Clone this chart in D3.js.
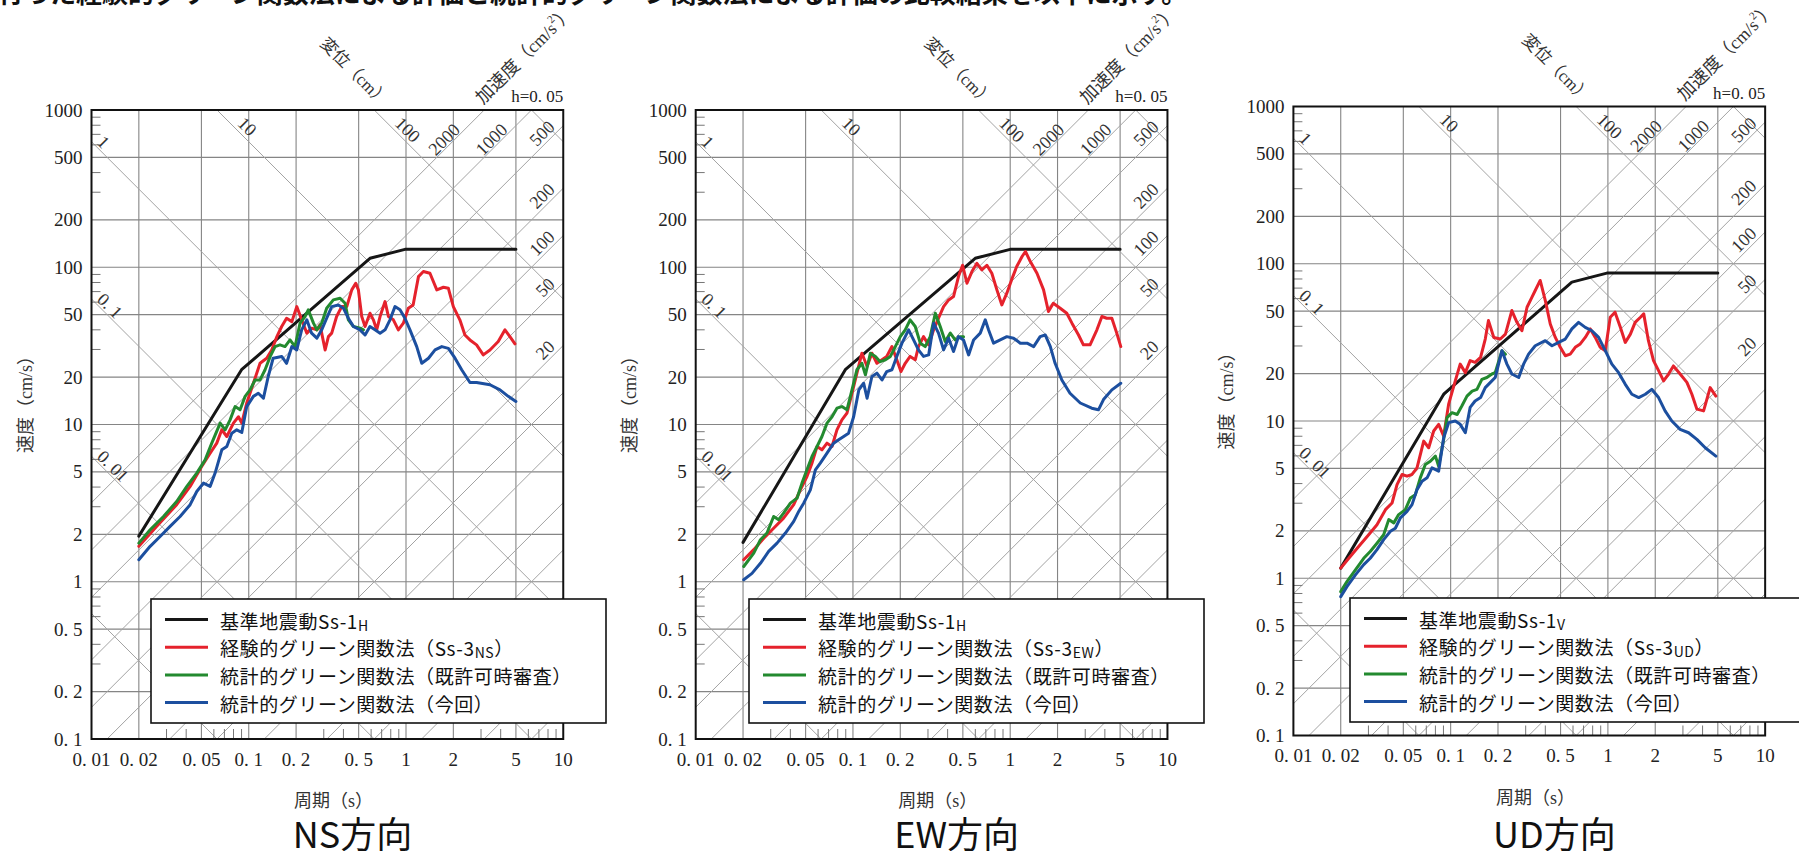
<!DOCTYPE html>
<html><head><meta charset="utf-8">
<script src="https://cdn.jsdelivr.net/npm/d3@7"></script>
<style>body{margin:0;background:#fff;} svg{display:block;}</style>
</head><body>
<svg id="chart" width="1799" height="851"></svg>
<script>
// ---------- axis / reference-line values ----------
const periodTicks = [0.01,0.02,0.05,0.1,0.2,0.5,1,2,5,10];
const periodTickLabels = ["0. 01","0. 02","0. 05","0. 1","0. 2","0. 5","1","2","5","10"];
const velocityTicks = [0.1,0.2,0.5,1,2,5,10,20,50,100,200,500,1000];
const velocityTickLabels = ["0. 1","0. 2","0. 5","1","2","5","10","20","50","100","200","500","1000"];
const dispLines = [0.001,0.01,0.1,1,10,100,1000];           // cm
const dispLeftLabels = [[0.01,"0. 01"],[0.1,"0. 1"],[1,"1"]];
const dispTopLabels = [[10,"10"],[100,"100"]];
const accLines = [0.1,0.2,0.5,1,2,5,10,20,50,100,200,500,1000,2000]; // cm/s2
const accRightLabels = [20,50,100,200,500];
const accTopLabels = [1000,2000];
const seriesNames = ["基準地震動Ss-1","経験的グリーン関数法（Ss-3","統計的グリーン関数法（既許可時審査）","統計的グリーン関数法（今回）"];

// ---------- NS (period s, velocity cm/s) ----------
const nsBase = [[0.02,1.95],[0.09,22.3],[0.59,114],[0.985,130],[5.0,130]];
const nsEmpirical = [[0.02,1.68],[0.026,2.25],[0.0348,3.09],[0.0424,4.04],[0.0502,5.41],[0.0568,6.57],[0.0626,7.61],[0.0674,9.25],[0.0725,8.39],[0.0799,10.2],[0.086,11.2],[0.0903,10.2],[0.0971,13.7],[0.107,18.3],[0.118,24.5],[0.130,26.4],[0.140,29.8],[0.151,36.2],[0.162,42.0],[0.174,47.4],[0.188,45.1],[0.202,56.2],[0.217,46.3],[0.234,38.1],[0.251,41.0],[0.271,40.0],[0.284,43.0],[0.306,29.8],[0.321,36.2],[0.337,38.1],[0.362,48.6],[0.390,56.2],[0.420,56.2],[0.452,71.8],[0.479,79.1],[0.498,71.8],[0.523,48.6],[0.549,42.0],[0.590,51.0],[0.620,46.3],[0.651,40.0],[0.684,48.6],[0.736,60.5],[0.773,48.6],[0.831,46.3],[0.894,40.0],[0.962,44.1],[1.035,54.9],[1.11,57.6],[1.20,87.2],[1.29,93.9],[1.42,91.6],[1.57,71.8],[1.73,74.6],[1.86,73.5],[2.00,56.2],[2.20,46.3],[2.37,37.1],[2.55,34.5],[2.81,32.1],[3.10,27.7],[3.42,29.8],[3.86,33.7],[4.26,40.0],[4.58,36.2],[4.93,32.6]];
const nsStatOld = [[0.02,1.76],[0.0236,2.14],[0.0287,2.60],[0.0348,3.24],[0.0404,4.04],[0.0467,4.91],[0.0528,5.96],[0.0582,7.61],[0.0658,10.2],[0.0708,9.25],[0.0761,10.7],[0.0819,13.0],[0.0881,12.4],[0.0948,15.1],[0.1019,16.6],[0.1097,19.2],[0.118,19.2],[0.127,22.3],[0.137,27.1],[0.147,31.3],[0.158,32.1],[0.170,31.3],[0.183,34.5],[0.197,31.3],[0.212,44.1],[0.228,48.6],[0.239,53.6],[0.258,44.1],[0.271,40.0],[0.291,44.1],[0.313,54.9],[0.345,62.0],[0.381,63.5],[0.410,59.0],[0.430,46.3],[0.463,42.0],[0.510,41.0],[0.536,40.0]];
const nsStatNew = [[0.02,1.38],[0.0236,1.68],[0.0273,1.94],[0.0316,2.25],[0.0366,2.60],[0.0424,3.09],[0.0467,3.75],[0.0515,4.24],[0.0568,4.04],[0.0611,4.91],[0.0674,6.90],[0.0725,7.25],[0.078,8.81],[0.0839,9.25],[0.0903,8.90],[0.0971,13.0],[0.107,15.1],[0.115,15.8],[0.124,14.7],[0.133,20.2],[0.143,26.4],[0.162,27.1],[0.174,24.5],[0.188,31.3],[0.202,29.8],[0.217,40.0],[0.234,46.3],[0.251,38.1],[0.271,35.4],[0.291,40.0],[0.313,47.4],[0.337,56.2],[0.371,57.6],[0.400,54.9],[0.430,47.4],[0.463,42.0],[0.510,40.0],[0.549,37.1],[0.590,42.0],[0.635,40.0],[0.684,38.1],[0.736,40.0],[0.791,46.3],[0.851,56.2],[0.916,53.6],[0.985,47.4],[1.06,40.0],[1.17,31.3],[1.26,24.5],[1.39,26.4],[1.53,29.8],[1.69,31.3],[1.86,30.5],[2.05,26.4],[2.26,22.3],[2.55,18.5],[2.81,18.5],[3.42,17.9],[3.96,16.6],[4.47,15.1],[5.00,14.0]];

// ---------- EW ----------
const ewBase = [[0.02,1.78],[0.0894,22.3],[0.599,114],[1.0,130],[5.0,130]];
const ewEmpirical = [[0.0202,1.38],[0.0234,1.60],[0.0271,1.89],[0.0313,2.19],[0.0362,2.54],[0.0420,3.09],[0.0463,3.84],[0.0510,4.67],[0.0549,5.68],[0.0591,7.25],[0.0635,6.90],[0.0684,7.61],[0.0736,7.25],[0.0791,9.25],[0.0851,10.7],[0.0916,11.8],[0.0986,15.8],[0.106,21.2],[0.114,28.4],[0.123,23.4],[0.132,28.4],[0.142,24.5],[0.153,25.8],[0.164,27.1],[0.177,31.3],[0.190,25.8],[0.202,21.7],[0.215,24.5],[0.231,27.1],[0.249,25.8],[0.261,31.3],[0.281,36.2],[0.303,32.1],[0.326,40.0],[0.350,47.4],[0.377,56.2],[0.406,62.0],[0.436,65.1],[0.469,87.2],[0.498,103],[0.531,79.1],[0.571,93.9],[0.614,106],[0.660,96.2],[0.711,103],[0.764,91.6],[0.823,71.8],[0.885,57.6],[0.952,68.4],[1.02,83.1],[1.10,101],[1.19,117],[1.25,126],[1.34,109],[1.48,91.6],[1.63,71.8],[1.75,52.3],[1.88,59.0],[2.08,54.9],[2.29,51.0],[2.47,44.1],[2.72,37.1],[2.92,32.1],[3.22,32.1],[3.56,40.0],[3.83,48.6],[4.11,47.4],[4.43,47.4],[4.76,38.1],[5.05,31.3]];
const ewStatOld = [[0.0202,1.25],[0.0234,1.52],[0.0258,1.85],[0.0284,2.04],[0.0313,2.60],[0.0337,2.48],[0.0362,2.73],[0.0400,3.16],[0.0441,3.40],[0.0474,4.24],[0.051,5.15],[0.0549,6.26],[0.0591,7.25],[0.0635,8.39],[0.0684,10.2],[0.0736,11.2],[0.0791,12.7],[0.0851,13.0],[0.0916,12.4],[0.0986,16.6],[0.106,22.3],[0.114,24.5],[0.120,20.7],[0.129,28.4],[0.139,27.1],[0.149,25.1],[0.161,25.8],[0.173,27.1],[0.186,31.3],[0.200,36.2],[0.215,40.0],[0.231,46.3],[0.249,42.0],[0.268,32.9],[0.288,31.3],[0.310,36.2],[0.334,51.0],[0.359,42.0],[0.386,33.7],[0.416,38.1],[0.447,34.5],[0.481,36.2],[0.505,36.2]];
const ewStatNew = [[0.0202,1.03],[0.0228,1.13],[0.0258,1.31],[0.0291,1.56],[0.0329,1.76],[0.0372,2.04],[0.0420,2.42],[0.0452,2.80],[0.0486,3.16],[0.0536,3.84],[0.0577,5.15],[0.0620,5.68],[0.0684,6.57],[0.0754,7.61],[0.0811,7.99],[0.0873,8.39],[0.0938,8.81],[0.101,11.2],[0.109,16.6],[0.117,18.3],[0.123,14.7],[0.132,20.2],[0.142,21.2],[0.153,19.2],[0.164,21.7],[0.177,22.3],[0.190,27.1],[0.205,32.9],[0.226,40.0],[0.243,34.5],[0.261,29.8],[0.281,27.1],[0.303,27.7],[0.326,44.1],[0.350,38.1],[0.377,29.8],[0.406,35.4],[0.436,29.1],[0.469,36.2],[0.505,34.5],[0.544,27.7],[0.585,34.5],[0.645,38.1],[0.694,46.3],[0.728,40.0],[0.784,32.9],[0.864,34.5],[0.952,36.2],[1.05,35.4],[1.16,32.9],[1.28,32.9],[1.41,31.3],[1.55,36.2],[1.67,37.1],[1.80,31.3],[1.93,24.5],[2.13,19.2],[2.40,15.8],[2.79,13.7],[3.30,12.7],[3.64,12.4],[3.92,14.4],[4.43,16.6],[5.05,18.3]];

// ---------- UD ----------
const udBase = [[0.02,1.16],[0.0903,14.8],[0.59,76.4],[0.985,87.2],[5.0,87.2]];
const udEmpirical = [[0.02,1.16],[0.0225,1.34],[0.0260,1.59],[0.0301,1.89],[0.0340,2.19],[0.0385,2.73],[0.0424,3.01],[0.0456,3.94],[0.0491,4.57],[0.0528,4.46],[0.0568,4.57],[0.0611,5.04],[0.0674,7.45],[0.0725,6.76],[0.078,8.64],[0.0839,9.52],[0.0903,8.02],[0.0971,12.8],[0.107,18.0],[0.115,23.0],[0.124,20.3],[0.133,24.2],[0.143,23.6],[0.155,25.4],[0.166,33.2],[0.174,43.5],[0.188,34.0],[0.207,33.2],[0.223,35.7],[0.245,50.4],[0.264,42.4],[0.284,37.5],[0.306,52.9],[0.329,61.3],[0.345,67.6],[0.371,78.3],[0.400,58.3],[0.430,41.4],[0.463,34.0],[0.498,29.4],[0.536,26.0],[0.576,26.6],[0.620,29.4],[0.667,30.9],[0.718,34.0],[0.773,38.5],[0.831,34.0],[0.894,29.4],[0.962,28.0],[1.035,45.7],[1.11,49.2],[1.20,39.4],[1.29,31.6],[1.39,35.7],[1.49,42.4],[1.61,45.7],[1.69,48.0],[1.81,32.4],[1.95,24.2],[2.10,20.9],[2.26,18.0],[2.43,19.9],[2.61,22.4],[2.88,19.9],[3.18,17.6],[3.42,14.8],[3.68,11.9],[4.06,11.6],[4.47,16.3],[4.86,14.4]];
const udStatOld = [[0.02,0.822],[0.0219,0.952],[0.0248,1.13],[0.0280,1.34],[0.0308,1.48],[0.0340,1.67],[0.0375,1.89],[0.0404,2.36],[0.0435,2.25],[0.0467,2.54],[0.0515,2.73],[0.0555,3.24],[0.0596,3.40],[0.0641,4.35],[0.069,5.29],[0.0743,5.55],[0.080,5.98],[0.0839,5.16],[0.0903,7.64],[0.0948,10.5],[0.102,11.3],[0.110,11.0],[0.118,12.5],[0.127,14.4],[0.137,15.5],[0.147,15.9],[0.158,18.4],[0.170,18.9],[0.183,19.9],[0.192,20.3],[0.212,28.0],[0.223,26.6]];
const udStatNew = [[0.02,0.764],[0.0219,0.885],[0.0248,1.05],[0.0280,1.22],[0.0308,1.34],[0.0340,1.52],[0.0375,1.76],[0.0414,1.99],[0.0445,2.08],[0.0479,2.42],[0.0528,2.66],[0.0568,2.94],[0.0611,3.66],[0.0658,4.14],[0.0708,4.35],[0.0761,5.04],[0.0839,4.80],[0.0903,7.83],[0.0971,9.76],[0.107,9.99],[0.115,9.52],[0.124,8.42],[0.133,12.2],[0.143,13.4],[0.155,14.1],[0.166,16.3],[0.179,17.6],[0.192,18.9],[0.212,28.0],[0.228,23.0],[0.245,19.9],[0.271,18.9],[0.291,23.0],[0.313,26.6],[0.345,30.1],[0.400,32.4],[0.441,30.1],[0.486,31.6],[0.536,33.2],[0.590,38.5],[0.651,42.4],[0.718,39.4],[0.791,37.5],[0.873,34.0],[0.962,28.0],[1.06,23.0],[1.17,20.3],[1.29,17.1],[1.42,14.8],[1.57,14.1],[1.73,14.8],[1.90,15.9],[2.10,14.1],[2.31,11.6],[2.55,10.0],[2.88,8.85],[3.26,8.42],[3.68,7.64],[4.16,6.76],[4.86,5.98]];

// ---------- layout ----------
const DEC = 157.25;
const panels = [
  {key:"ns", left:91.5,  top:110,   legendX:151,  legendY:599, baseSub:"H", empSub:"NS", title:"NS方向", series:[nsBase,nsEmpirical,nsStatOld,nsStatNew]},
  {key:"ew", left:695.7, top:110,   legendX:749,  legendY:599, baseSub:"H", empSub:"EW", title:"EW方向", series:[ewBase,ewEmpirical,ewStatOld,ewStatNew]},
  {key:"ud", left:1293.4,top:106.5, legendX:1350, legendY:598, baseSub:"V", empSub:"UD", title:"UD方向", series:[udBase,udEmpirical,udStatOld,udStatNew]}
];
const colors = ["#161616","#e5222c","#238a2f","#1c4f9f"];
const SERIF = "'Liberation Serif','DejaVu Serif','Noto Sans CJK JP',serif";
const CJK = "'Noto Sans CJK JP','Noto Sans',sans-serif";
const TWO_PI = 2*Math.PI;

const svg = d3.select("#chart");
const defs = svg.append("defs");

// heading cut off by the top edge of the page
svg.append("text").attr("x",-2).attr("y",3).attr("font-family",CJK).attr("font-size",26).attr("font-weight",700)
  .attr("fill","#111").text("行った経験的グリーン関数法による評価と統計的グリーン関数法による評価の比較結果を以下に示す。");

const minorT = []; [0.01,0.1,1].forEach(d=>[3,4,6,7,8,9].forEach(m=>minorT.push(d*m)));
const minorV = []; [0.1,1,10,100].forEach(d=>[3,4,6,7,8,9].forEach(m=>minorV.push(d*m)));

panels.forEach(p => {
  const left = p.left, top = p.top, right = left + 3*DEC, bottom = top + 4*DEC;
  const x = d3.scaleLog().domain([0.01,10]).range([left,right]);
  const y = d3.scaleLog().domain([0.1,1000]).range([bottom,top]);
  const g = svg.append("g");
  const clipId = "clip-"+p.key;
  defs.append("clipPath").attr("id",clipId).append("rect")
    .attr("x",left).attr("y",top).attr("width",right-left).attr("height",bottom-top);

  // grid
  g.append("g").selectAll("line").data(periodTicks.slice(1,-1)).join("line")
    .attr("x1",d=>x(d)).attr("x2",d=>x(d)).attr("y1",top).attr("y2",bottom)
    .attr("stroke","#858585").attr("stroke-width",1.1);
  g.append("g").selectAll("line").data(velocityTicks.slice(1,-1)).join("line")
    .attr("y1",d=>y(d)).attr("y2",d=>y(d)).attr("x1",left).attr("x2",right)
    .attr("stroke","#858585").attr("stroke-width",1.1);

  // tripartite diagonals
  const gd = g.append("g").attr("clip-path",`url(#${clipId})`);
  gd.selectAll("line.d").data(dispLines).join("line").attr("class","d")
    .attr("x1",x(1e-3)).attr("y1",D=>y(TWO_PI*D/1e-3))
    .attr("x2",x(100)).attr("y2",D=>y(TWO_PI*D/100))
    .attr("stroke","#a3a3a3").attr("stroke-width",1);
  gd.selectAll("line.a").data(accLines).join("line").attr("class","a")
    .attr("x1",x(1e-3)).attr("y1",A=>y(A*1e-3/TWO_PI))
    .attr("x2",x(100)).attr("y2",A=>y(A*100/TWO_PI))
    .attr("stroke","#a3a3a3").attr("stroke-width",1);

  // minor ticks
  g.append("g").selectAll("line").data(minorV).join("line")
    .attr("x1",left).attr("x2",left+9).attr("y1",d=>y(d)).attr("y2",d=>y(d))
    .attr("stroke","#777").attr("stroke-width",1);
  g.append("g").selectAll("line").data(minorT).join("line")
    .attr("y1",bottom).attr("y2",bottom-10).attr("x1",d=>x(d)).attr("x2",d=>x(d))
    .attr("stroke","#777").attr("stroke-width",1);

  // diagonal labels
  const lab = g.append("g").attr("font-family",SERIF).attr("font-size",18).attr("fill","#333");
  dispLeftLabels.forEach(([D,t]) => {
    const xs = left+3, T = x.invert(xs), ys = y(TWO_PI*D/T);
    lab.append("text").attr("transform",`translate(${xs+1.5},${ys-1.5}) rotate(45)`).text(t);
  });
  dispTopLabels.forEach(([D,t]) => {
    const ys = top+17, V = y.invert(ys), xs = x(TWO_PI*D/V);
    lab.append("text").attr("transform",`translate(${xs+2.5},${ys-2.5}) rotate(45)`).text(t);
  });
  accRightLabels.forEach(A => {
    const xs = right-5, T = x.invert(xs), ys = y(A*T/TWO_PI);
    lab.append("text").attr("text-anchor","end").attr("transform",`translate(${xs-2.5},${ys-2.5}) rotate(-45)`).text(A);
  });
  accTopLabels.forEach(A => {
    const ys = top+21, V = y.invert(ys), xs = x(TWO_PI*V/A);
    lab.append("text").attr("text-anchor","end").attr("transform",`translate(${xs-2},${ys}) rotate(-45)`).text(A);
  });

  // curves
  const line = d3.line().x(d=>x(d[0])).y(d=>y(d[1]));
  p.series.forEach((s,i) => {
    g.append("path").datum(s).attr("d",line).attr("fill","none")
      .attr("stroke",colors[i]).attr("stroke-width",3).attr("stroke-linejoin","round").attr("stroke-linecap","round");
  });

  // frame
  g.append("rect").attr("x",left).attr("y",top).attr("width",right-left).attr("height",bottom-top)
    .attr("fill","none").attr("stroke","#111").attr("stroke-width",2);

  // tick labels
  g.append("g").selectAll("text").data(velocityTicks).join("text")
    .attr("x",left-9).attr("y",d=>y(d)).attr("text-anchor","end").attr("dominant-baseline","central")
    .attr("font-family",SERIF).attr("font-size",19).attr("fill","#222")
    .text((d,i)=>velocityTickLabels[i]);
  g.append("g").selectAll("text").data(periodTicks).join("text")
    .attr("x",d=>x(d)).attr("y",bottom+20).attr("text-anchor","middle").attr("dominant-baseline","central")
    .attr("font-family",SERIF).attr("font-size",19).attr("fill","#222")
    .text((d,i)=>periodTickLabels[i]);

  // axis titles
  g.append("text").attr("transform",`translate(${left-66},${top+290}) rotate(-90)`)
    .attr("text-anchor","middle").attr("dominant-baseline","central")
    .attr("font-family",SERIF).attr("font-size",18).attr("fill","#333").text("速度（cm/s）");
  g.append("text").attr("x",left+242).attr("y",bottom+62).attr("text-anchor","middle").attr("dominant-baseline","central")
    .attr("font-family",SERIF).attr("font-size",18).attr("fill","#333").text("周期（s）");
  g.append("text").attr("transform",`translate(${left+263},${top-38}) rotate(45)`)
    .attr("text-anchor","middle").attr("dominant-baseline","central")
    .attr("font-family",SERIF).attr("font-size",17).attr("fill","#333").text("変位（cm）");
  const acc = g.append("text").attr("transform",`translate(${left+433},${top-55}) rotate(-45)`)
    .attr("text-anchor","middle").attr("dominant-baseline","central")
    .attr("font-family",SERIF).attr("font-size",18).attr("fill","#333");
  acc.append("tspan").text("加速度（cm/s");
  acc.append("tspan").attr("dy",-7).attr("font-size",11).text("2");
  acc.append("tspan").attr("dy",7).text("）");
  g.append("text").attr("x",right).attr("y",top-8).attr("text-anchor","end")
    .attr("font-family",SERIF).attr("font-size",17).attr("fill","#222").text("h=0. 05");

  // legend
  const lg = g.append("g");
  lg.append("rect").attr("x",p.legendX).attr("y",p.legendY).attr("width",455).attr("height",124)
    .attr("fill","#fff").attr("stroke","#111").attr("stroke-width",1.6);
  seriesNames.forEach((name,i) => {
    const yy = p.legendY + 20.5 + i*27.7;
    lg.append("line").attr("x1",p.legendX+14).attr("x2",p.legendX+57).attr("y1",yy).attr("y2",yy)
      .attr("stroke",colors[i]).attr("stroke-width",3);
    const t = lg.append("text").attr("x",p.legendX+69).attr("y",yy).attr("dominant-baseline","central")
      .attr("font-family",CJK).attr("font-size",19).attr("letter-spacing",0.6).attr("fill","#111");
    t.append("tspan").text(name);
    if (i===0) { t.append("tspan").attr("font-size",14).attr("dy",5).text(p.baseSub); }
    if (i===1) { t.append("tspan").attr("font-size",14).attr("dy",5).text(p.empSub);
                 t.append("tspan").attr("dy",-5).text("）"); }
  });

  // panel caption
  g.append("text").attr("x",left+261).attr("y",848).attr("text-anchor","middle")
    .attr("font-family",CJK).attr("font-size",36).attr("fill","#111").text(p.title);
});
</script>
</body></html>
